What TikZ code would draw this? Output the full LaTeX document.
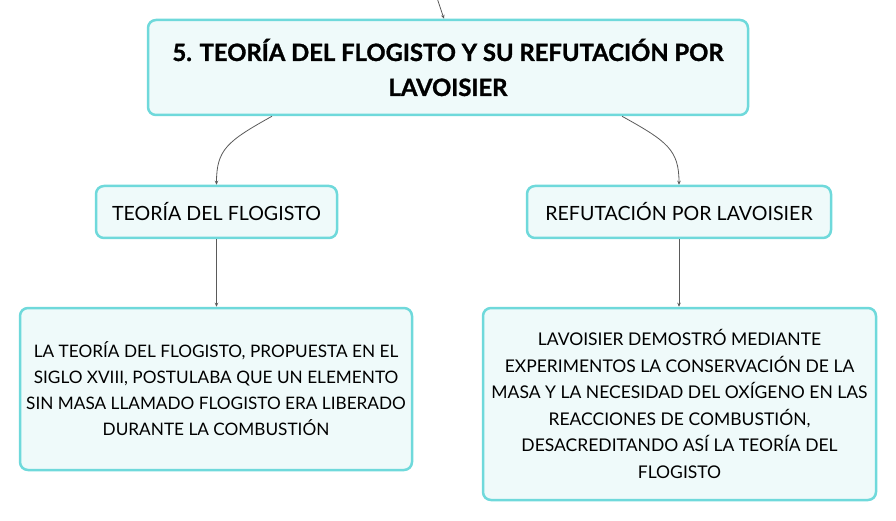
\documentclass[tikz,border=0pt]{standalone}
\usepackage{fontspec}
\setmainfont{Lato}[BoldFeatures={FakeBold=1.2}]
\usetikzlibrary{arrows.meta,calc}
\definecolor{boxborder}{HTML}{6FD9DB}
\definecolor{boxfill}{HTML}{EFFAFA}
\definecolor{linkgray}{HTML}{5A5A5A}
\tikzset{
  box/.style={draw=boxborder, fill=boxfill, line width=2.5pt, rounded corners=8pt,
    align=center, inner sep=0pt},
  link/.style={draw=linkgray, line width=0.8pt, -{Stealth[length=4pt,width=3.5pt]}},
}
\begin{document}
\begin{tikzpicture}[x=1pt,y=-1pt]
\useasboundingbox (0,0) rectangle (896,521);
\node[box, minimum width=600pt, minimum height=95pt, font=\bfseries\fontsize{23.8}{35}\selectfont]
  (title) at (448,67.5) {5. TEORÍA DEL FLOGISTO Y SU REFUTACIÓN POR\\LAVOISIER};
\node[box, minimum width=241pt, minimum height=52pt, font=\fontsize{19.6}{22}\selectfont]
  (lc) at (216.5,212) {TEORÍA DEL FLOGISTO};
\node[box, minimum width=304pt, minimum height=52pt, font=\fontsize{19.6}{22}\selectfont]
  (rc) at (679,212) {REFUTACIÓN POR LAVOISIER};
\node[box, minimum width=392pt, minimum height=162pt, font=\fontsize{17.2}{26}\selectfont]
  (ld) at (216,389) {LA TEORÍA DEL FLOGISTO, PROPUESTA EN EL\\SIGLO XVIII, POSTULABA QUE UN ELEMENTO\\SIN MASA LLAMADO FLOGISTO ERA LIBERADO\\DURANTE LA COMBUSTIÓN};
\node[box, minimum width=393pt, minimum height=192pt, font=\fontsize{17.5}{26.5}\selectfont]
  (rd) at (679.5,404) {LAVOISIER DEMOSTRÓ MEDIANTE\\EXPERIMENTOS LA CONSERVACIÓN DE LA\\MASA Y LA NECESIDAD DEL OXÍGENO EN LAS\\REACCIONES DE COMBUSTIÓN,\\DESACREDITANDO ASÍ LA TEORÍA DEL\\FLOGISTO};
\coordinate (in) at (437,-2);
\draw[link] (in) -- ([xshift=-4pt]title.north);
\draw[link] ([xshift=-176pt]title.south) .. controls +(-45,25) and +(0,-35) .. (lc.north);
\draw[link] ([xshift=174pt]title.south) .. controls +(45,25) and +(0,-35) .. (rc.north);
\draw[link] (lc.south) -- (lc.south |- ld.north);
\draw[link] (rc.south) -- (rc.south |- rd.north);
\end{tikzpicture}
\end{document}
